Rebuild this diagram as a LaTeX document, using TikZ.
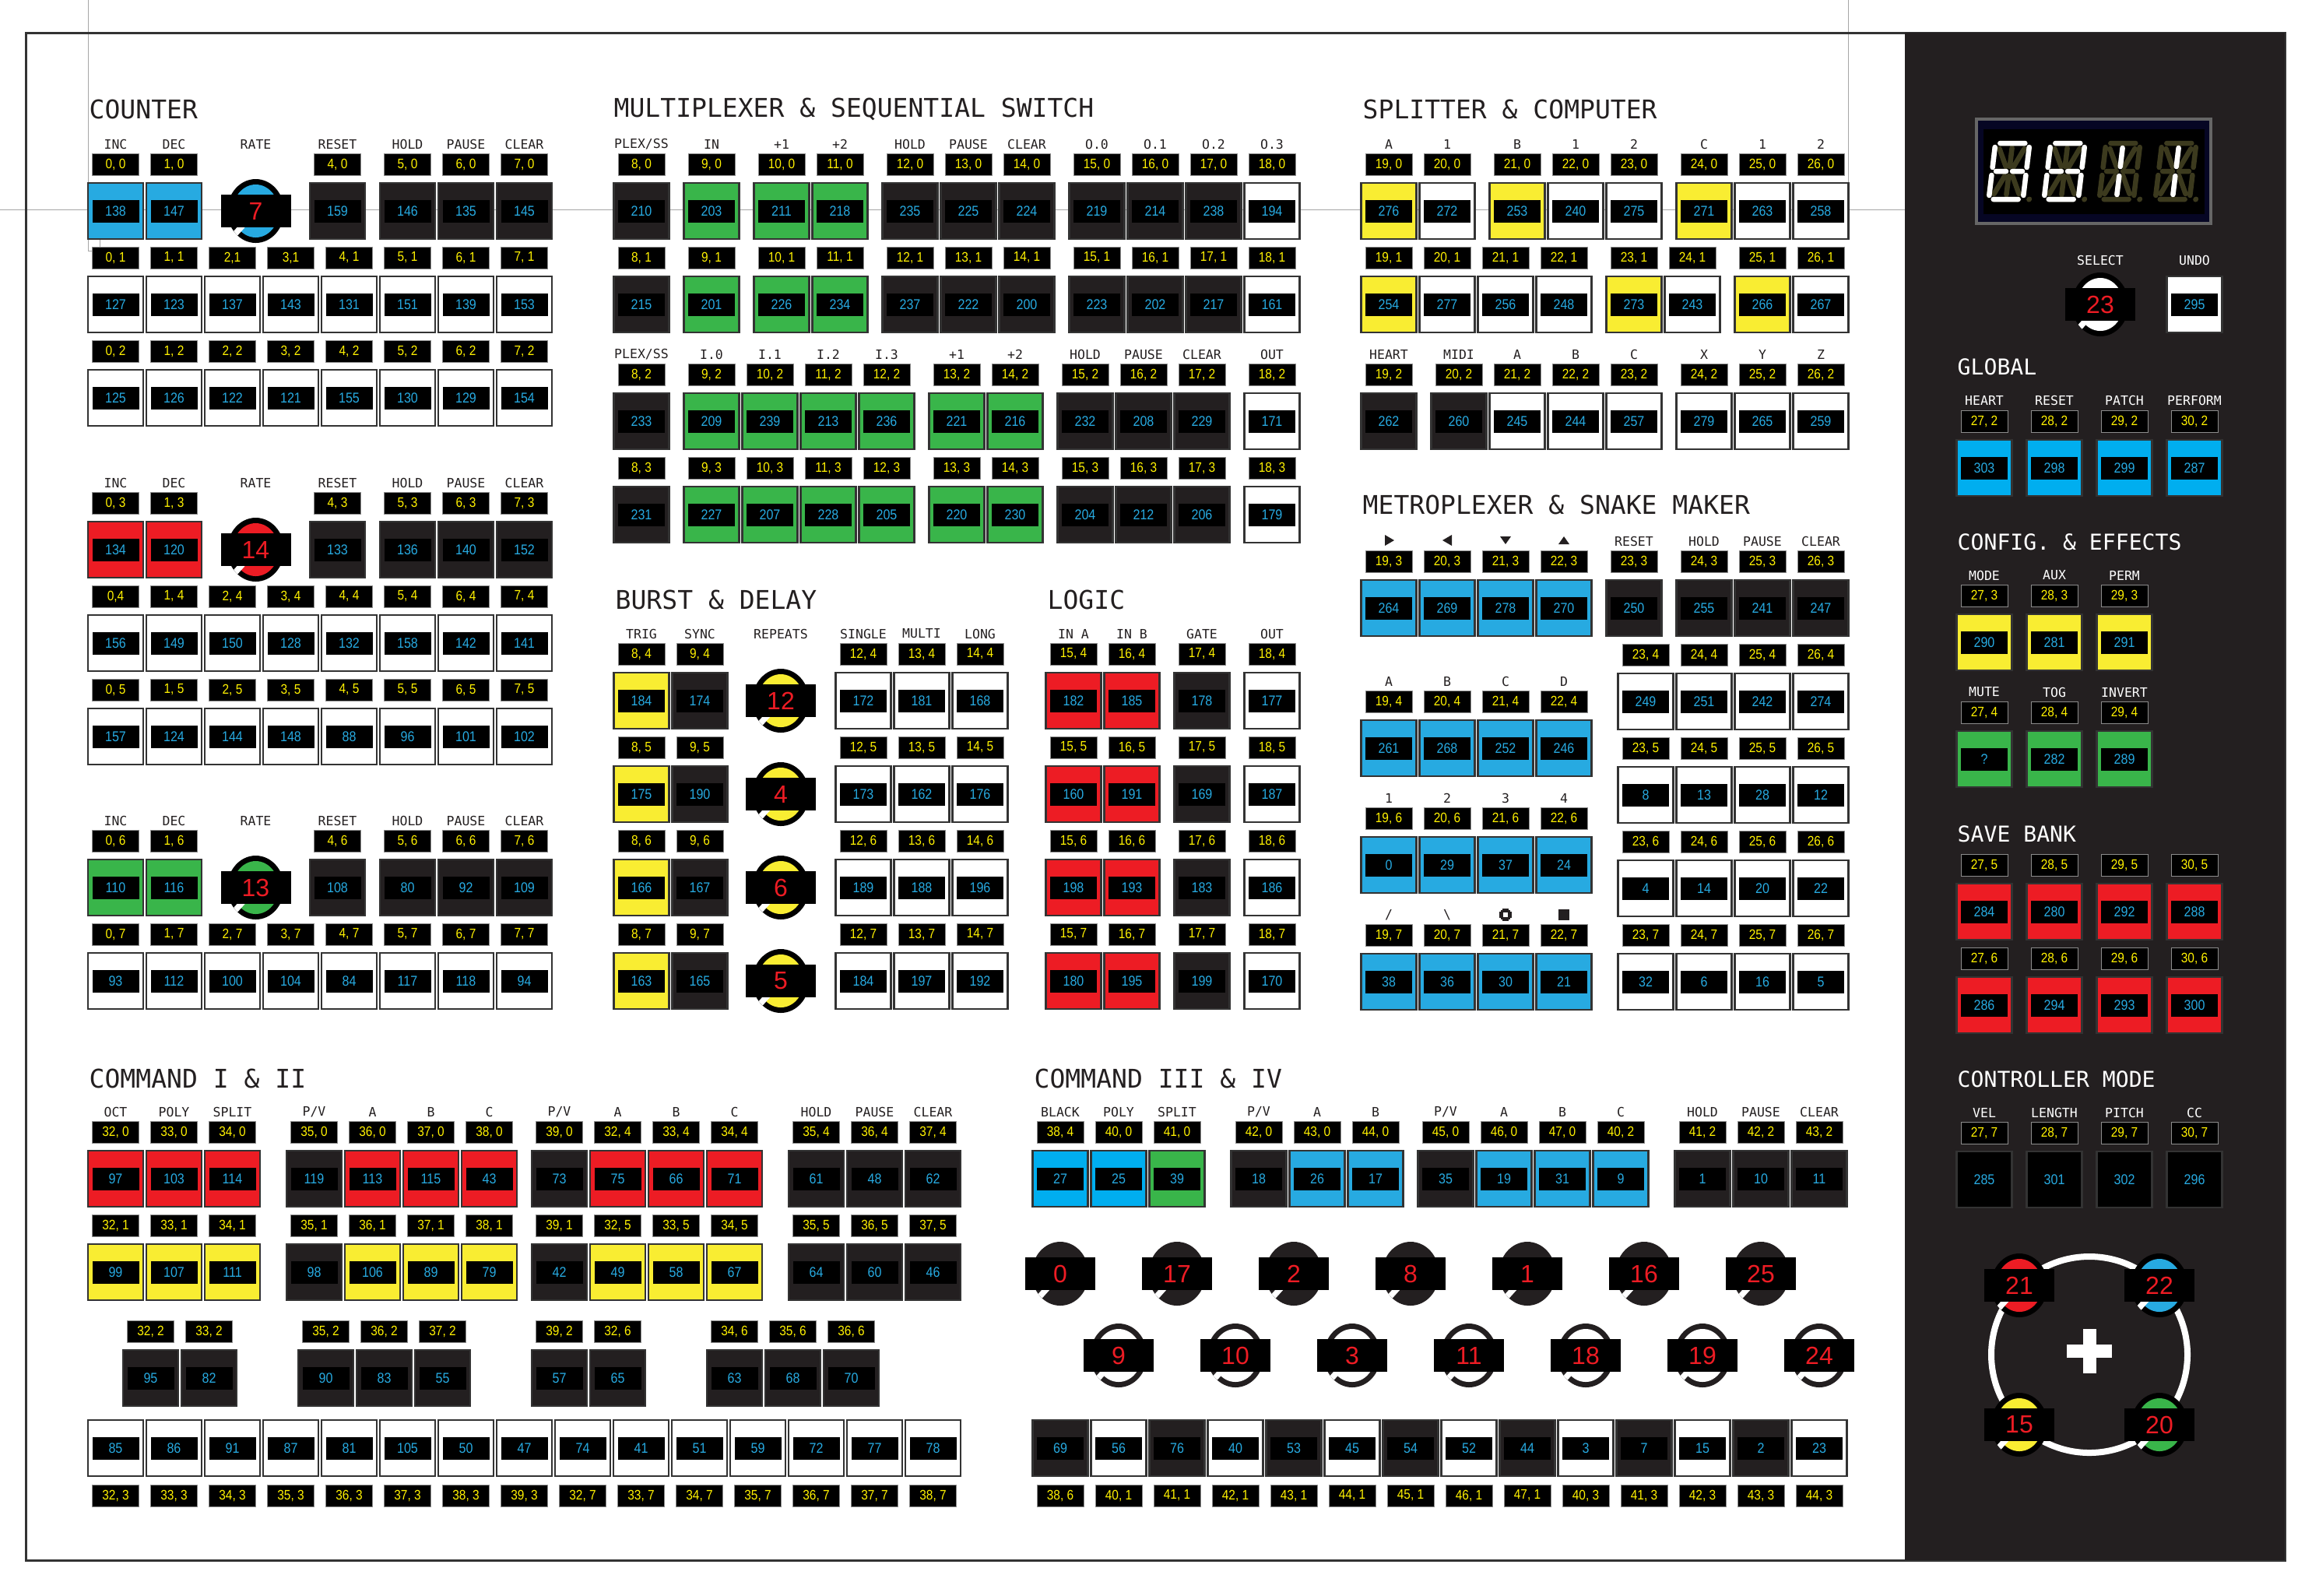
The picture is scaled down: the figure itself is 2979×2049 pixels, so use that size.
\documentclass[tikz,border=0pt]{standalone}
\usepackage{fontspec}
\newfontfamily\monofont{DejaVu Sans Mono}
\newfontfamily\numfont{Liberation Sans}[FakeStretch=0.88]
\newfontfamily\knobfont{Liberation Sans}
\definecolor{cblue}{RGB}{39,170,225}
\definecolor{cblue2}{RGB}{0,174,239}
\definecolor{cred}{RGB}{237,28,36}
\definecolor{cyel}{RGB}{249,237,50}
\definecolor{cgreen}{RGB}{57,181,74}
\definecolor{cdark}{RGB}{35,31,32}
\definecolor{clab}{RGB}{255,242,0}
\definecolor{cnum}{RGB}{39,170,225}
\definecolor{cdim}{RGB}{60,58,30}
\definecolor{cnavy}{RGB}{6,6,36}
\newcommand{\labdy}{-60}
% key: x, y, column, row, fill, number (optional: label text)
\newcommand{\keybtn}[7][\kbdef]{%
  \node[key, fill=#6] (key#4-#5) at (#2,#3) {};
  \node[inbox] (num#4-#5) at (key#4-#5.center) {#7};
  \node[lab] (lab#4-#5) at (#2,#3+\labdy) {\def\kbdef{#4, #5}#1};
}
% dial: x, y, fill, ring, number
\newcommand{\knobdial}[5]{%
  \fill[#4] (#1,#2) ellipse (36.5 and 41);
  \fill[#3] (#1,#2) ellipse (29.5 and 34);
  \begin{scope}
    \clip (#1,#2) ellipse (36.5 and 41);
    \draw[white, line width=0.75mm] (#1,#2) -- ++(-45,50);
  \end{scope}
  \node[knum] (knob#5) at (#1,#2) {#5};
}
\begin{document}
\begin{tikzpicture}[x=0.1mm, y=-0.1mm,
  key/.style={draw=black!80, line width=0.25mm, minimum width=7.1mm, minimum height=7.2mm, inner sep=0pt},
  inbox/.style={fill=black, minimum width=6mm, minimum height=2.9mm, inner sep=0pt, text=cnum, font=\numfont\fontsize{5.2}{6}\selectfont},
  lab/.style={fill=black, draw=black!45, line width=0.1mm, minimum width=6mm, minimum height=2.8mm, inner sep=0pt, text=clab, font=\numfont\fontsize{5}{6}\selectfont},
  knum/.style={fill=black, minimum width=9mm, minimum height=4.2mm, inner sep=0pt, text=cred, font=\knobfont\fontsize{9.1}{10}\selectfont},
  hdr/.style={inner sep=0pt, text=cdark, font=\monofont\fontsize{4.7}{5}\selectfont},
  phdr/.style={hdr, text=white},
  title/.style={anchor=west, inner sep=0pt, text=cdark, font=\monofont\fontsize{9.4}{11}\selectfont},
  ptitle/.style={title, text=white, font=\monofont\fontsize{8}{10}\selectfont},
  seg/.style={line width=0.65mm, line cap=round},
]
  \useasboundingbox (0,0) rectangle (2979,2049);
  % guides and frame
  \draw[black!35, line width=0.1mm] (0,269) -- (2447,269);
  \draw[black!35, line width=0.1mm] (113,0) -- (113,322) -- (128,322) -- (128,307);
  \draw[black!35, line width=0.1mm] (2374,0) -- (2374,236);
  \draw[black!80, line width=0.3mm] (33,42) rectangle (2935,2004);
  \fill[cdark] (2447,42) rectangle (2935,2004);

  % COUNTER
  \node[title] (tcounter) at (114,140) {COUNTER};
  \foreach \gy/\g in {185/1,620/2,1054/3}
    \foreach \x/\t [count=\i] in {148.5/INC,223.5/DEC,328.5/RATE,433.5/RESET,523.5/HOLD,598.5/PAUSE,673.5/CLEAR}
      {\node[hdr] (hc\g-\i) at (\x,\gy) {\t};}
  \foreach \y/\rw/\cl/\m/\na/\nb/\nc/\nd/\ne/\nf in {271/0/cblue/7/138/147/159/146/135/145, 706/3/cred/14/134/120/133/136/140/152, 1140/6/cgreen/13/110/116/108/80/92/109} {
    \knobdial{328.5}{\y}{\cl}{black}{\m}
    \keybtn{148.5}{\y}{0}{\rw}{\cl}{\na}
    \keybtn{223.5}{\y}{1}{\rw}{\cl}{\nb}
    \keybtn{433.5}{\y}{4}{\rw}{cdark}{\nc}
    \keybtn{523.5}{\y}{5}{\rw}{cdark}{\nd}
    \keybtn{598.5}{\y}{6}{\rw}{cdark}{\ne}
    \keybtn{673.5}{\y}{7}{\rw}{cdark}{\nf}
  }
  \foreach \n/\l [count=\i from 0] in {127/{0, 1},123/{1, 1},137/{2,1},143/{3,1},131/{4, 1},151/{5, 1},139/{6, 1},153/{7, 1}}
    {\keybtn[\l]{148.5+75*\i}{391}{\i}{1}{white}{\n}}
  \foreach \n/\l [count=\i from 0] in {156/{0,4},149/{1, 4},150/{2, 4},128/{3, 4},132/{4, 4},158/{5, 4},142/{6, 4},141/{7, 4}}
    {\keybtn[\l]{148.5+75*\i}{826}{\i}{4}{white}{\n}}
  \foreach \y/\rw/\nums in {511/2/{125,126,122,121,155,130,129,154}, 946/5/{157,124,144,148,88,96,101,102}, 1260/7/{93,112,100,104,84,117,118,94}}
    \foreach \n [count=\i from 0] in \nums
      {\keybtn{148.5+75*\i}{\y}{\i}{\rw}{white}{\n}}

  % MULTIPLEXER & SEQUENTIAL SWITCH
  \node[title] (tmux) at (788,140) {MULTIPLEXER \& SEQUENTIAL SWITCH};
  \foreach \x/\t [count=\i] in {824/{PLEX/SS},914/IN,1004/+1,1079/+2,1169/HOLD,1244/PAUSE,1319/CLEAR,1409/O.0,1484/O.1,1559/O.2,1634/O.3}
    {\node[hdr] (hm\i) at (\x,185) {\t};}
  \foreach \x/\cl/\fa/\na/\nb in {824/8/cdark/210/215, 914/9/cgreen/203/201, 1004/10/cgreen/211/226, 1079/11/cgreen/218/234, 1169/12/cdark/235/237, 1244/13/cdark/225/222, 1319/14/cdark/224/200, 1409/15/cdark/219/223, 1484/16/cdark/214/202, 1559/17/cdark/238/217, 1634/18/white/194/161} {
    \keybtn{\x}{271}{\cl}{0}{\fa}{\na}
    \keybtn{\x}{391}{\cl}{1}{\fa}{\nb}
  }
  \foreach \x/\t [count=\i] in {824/{PLEX/SS},914/I.0,989/I.1,1064/I.2,1139/I.3,1229/+1,1304/+2,1394/HOLD,1469/PAUSE,1544/CLEAR,1634/OUT}
    {\node[hdr] (hn\i) at (\x,455) {\t};}
  \foreach \x/\cl/\fa/\na/\nb in {824/8/cdark/233/231, 914/9/cgreen/209/227, 989/10/cgreen/239/207, 1064/11/cgreen/213/228, 1139/12/cgreen/236/205, 1229/13/cgreen/221/220, 1304/14/cgreen/216/230, 1394/15/cdark/232/204, 1469/16/cdark/208/212, 1544/17/cdark/229/206, 1634/18/white/171/179} {
    \keybtn{\x}{541}{\cl}{2}{\fa}{\na}
    \keybtn{\x}{661}{\cl}{3}{\fa}{\nb}
  }

  % BURST & DELAY
  \node[title] (tburst) at (790,770) {BURST \& DELAY};
  \foreach \x/\t [count=\i] in {824/TRIG,899/SYNC,1003/REPEATS,1109/SINGLE,1184/MULTI,1259/LONG}
    {\node[hdr] (hb\i) at (\x,814) {\t};}
  \foreach \y/\rw/\na/\nb/\m/\nc/\nd/\ne in {900/4/184/174/12/172/181/168, 1020/5/175/190/4/173/162/176, 1140/6/166/167/6/189/188/196, 1260/7/163/165/5/184/197/192} {
    \keybtn{824}{\y}{8}{\rw}{cyel}{\na}
    \keybtn{899}{\y}{9}{\rw}{cdark}{\nb}
    \knobdial{1003}{\y}{cyel}{black}{\m}
    \keybtn{1109}{\y}{12}{\rw}{white}{\nc}
    \keybtn{1184}{\y}{13}{\rw}{white}{\nd}
    \keybtn{1259}{\y}{14}{\rw}{white}{\ne}
  }

  % LOGIC
  \node[title] (tlogic) at (1345,770) {LOGIC};
  \foreach \x/\t [count=\i] in {1379/IN A,1454/IN B,1544/GATE,1634/OUT}
    {\node[hdr] (hl\i) at (\x,814) {\t};}
  \foreach \y/\rw/\na/\nb/\nc/\nd in {900/4/182/185/178/177, 1020/5/160/191/169/187, 1140/6/198/193/183/186, 1260/7/180/195/199/170} {
    \keybtn{1379}{\y}{15}{\rw}{cred}{\na}
    \keybtn{1454}{\y}{16}{\rw}{cred}{\nb}
    \keybtn{1544}{\y}{17}{\rw}{cdark}{\nc}
    \keybtn{1634}{\y}{18}{\rw}{white}{\nd}
  }

  % SPLITTER & COMPUTER
  \node[title] (tsplit) at (1750,140) {SPLITTER \& COMPUTER};
  \foreach \x/\t [count=\i] in {1784/A,1859/1,1949/B,2024/1,2099/2,2189/C,2264/1,2339/2}
    {\node[hdr] (hs\i) at (\x,185) {\t};}
  \foreach \x/\cl/\fa/\n in {1784/19/cyel/276, 1859/20/white/272, 1949/21/cyel/253, 2024/22/white/240, 2099/23/white/275, 2189/24/cyel/271, 2264/25/white/263, 2339/26/white/258}
    {\keybtn{\x}{271}{\cl}{0}{\fa}{\n}}
  \foreach \x/\cl/\fa/\n in {1784/19/cyel/254, 1859/20/white/277, 1934/21/white/256, 2009/22/white/248, 2099/23/cyel/273, 2174/24/white/243, 2264/25/cyel/266, 2339/26/white/267}
    {\keybtn{\x}{391}{\cl}{1}{\fa}{\n}}
  \foreach \x/\t [count=\i] in {1784/HEART,1874/MIDI,1949/A,2024/B,2099/C,2189/X,2264/Y,2339/Z}
    {\node[hdr] (ht\i) at (\x,455) {\t};}
  \foreach \x/\cl/\fa/\n in {1784/19/cdark/262, 1874/20/cdark/260, 1949/21/white/245, 2024/22/white/244, 2099/23/white/257, 2189/24/white/279, 2264/25/white/265, 2339/26/white/259}
    {\keybtn{\x}{541}{\cl}{2}{\fa}{\n}}

  % METROPLEXER & SNAKE MAKER
  \node[title] (tmetro) at (1750,648) {METROPLEXER \& SNAKE MAKER};
  \fill[cdark] (1779,687) -- (1791,694) -- (1779,701) -- cycle;
  \fill[cdark] (1865,687) -- (1853,694) -- (1865,701) -- cycle;
  \fill[cdark] (1927,689) -- (1941,689) -- (1934,699) -- cycle;
  \fill[cdark] (2002,699) -- (2016,699) -- (2009,689) -- cycle;
  \foreach \x/\t [count=\i] in {2099/RESET,2189/HOLD,2264/PAUSE,2339/CLEAR}
    {\node[hdr] (hr\i) at (\x,695) {\t};}
  \foreach \x/\cl/\fa/\n in {1784/19/cblue/264, 1859/20/cblue/269, 1934/21/cblue/278, 2009/22/cblue/270, 2099/23/cdark/250, 2189/24/cdark/255, 2264/25/cdark/241, 2339/26/cdark/247}
    {\keybtn{\x}{781}{\cl}{3}{\fa}{\n}}
  \foreach \y/\rw/\na/\nb/\nc/\nd in {901/4/249/251/242/274, 1021/5/8/13/28/12, 1141/6/4/14/20/22, 1261/7/32/6/16/5} {
    \keybtn{2114}{\y}{23}{\rw}{white}{\na}
    \keybtn{2189}{\y}{24}{\rw}{white}{\nb}
    \keybtn{2264}{\y}{25}{\rw}{white}{\nc}
    \keybtn{2339}{\y}{26}{\rw}{white}{\nd}
  }
  \foreach \x/\ta/\tb [count=\i] in {1784/A/1,1859/B/2,1934/C/3,2009/D/4} {
    \node[hdr] (hx\i) at (\x,875) {\ta};
    \node[hdr] (hy\i) at (\x,1025) {\tb};
  }
  \node[hdr] (hz1) at (1784,1175) {/};
  \node[hdr] (hz2) at (1859,1175) {\textbackslash};
  \fill[cdark] (1926,1171) rectangle (1942,1179);
  \fill[cdark] (1930,1167) rectangle (1938,1183);
  \fill[cdark] (1928,1169) rectangle (1940,1181);
  \fill[white] (1931,1172) rectangle (1937,1178);
  \fill[cdark] (2002,1168) rectangle (2016,1182);
  \foreach \y/\rw/\na/\nb/\nc/\nd in {961/4/261/268/252/246, 1111/6/0/29/37/24, 1261/7/38/36/30/21} {
    \keybtn{1784}{\y}{19}{\rw}{cblue}{\na}
    \keybtn{1859}{\y}{20}{\rw}{cblue}{\nb}
    \keybtn{1934}{\y}{21}{\rw}{cblue}{\nc}
    \keybtn{2009}{\y}{22}{\rw}{cblue}{\nd}
  }

  % COMMAND I & II
  \node[title] (tcmd1) at (114,1385) {COMMAND I \& II};
  \foreach \x/\t [count=\i] in {148.5/OCT,223.5/POLY,298.5/SPLIT,403.5/{P/V},478.5/A,553.5/B,628.5/C,718.5/{P/V},793.5/A,868.5/B,943.5/C,1048.5/HOLD,1123.5/PAUSE,1198.5/CLEAR}
    {\node[hdr] (hk\i) at (\x,1428) {\t};}
  \foreach \x/\cl/\rw/\fa/\fb/\na/\nb in {148.5/32/0/cred/cyel/97/99, 223.5/33/0/cred/cyel/103/107, 298.5/34/0/cred/cyel/114/111, 403.5/35/0/cdark/cdark/119/98, 478.5/36/0/cred/cyel/113/106, 553.5/37/0/cred/cyel/115/89, 628.5/38/0/cred/cyel/43/79, 718.5/39/0/cdark/cdark/73/42, 793.5/32/4/cred/cyel/75/49, 868.5/33/4/cred/cyel/66/58, 943.5/34/4/cred/cyel/71/67, 1048.5/35/4/cdark/cdark/61/64, 1123.5/36/4/cdark/cdark/48/60, 1198.5/37/4/cdark/cdark/62/46} {
    \pgfmathtruncatemacro\rb{\rw+1}
    \keybtn{\x}{1514}{\cl}{\rw}{\fa}{\na}
    \keybtn{\x}{1634}{\cl}{\rb}{\fb}{\nb}
  }
  \foreach \x/\cl/\rw/\n in {193.5/32/2/95, 268.5/33/2/82, 418.5/35/2/90, 493.5/36/2/83, 568.5/37/2/55, 718.5/39/2/57, 793.5/32/6/65, 943.5/34/6/63, 1018.5/35/6/68, 1093.5/36/6/70}
    {\keybtn{\x}{1770}{\cl}{\rw}{cdark}{\n}}
  \renewcommand{\labdy}{61}
  \foreach \cl/\rw/\n [count=\i from 0] in {32/3/85, 33/3/86, 34/3/91, 35/3/87, 36/3/81, 37/3/105, 38/3/50, 39/3/47, 32/7/74, 33/7/41, 34/7/51, 35/7/59, 36/7/72, 37/7/77, 38/7/78}
    {\keybtn{148.5+75*\i}{1860}{\cl}{\rw}{white}{\n}}

  % COMMAND III & IV
  \node[title] (tcmd3) at (1328,1385) {COMMAND III \& IV};
  \foreach \x/\t [count=\i] in {1362/BLACK,1437/POLY,1512/SPLIT,1617/{P/V},1692/A,1767/B,1857/{P/V},1932/A,2007/B,2082/C,2187/HOLD,2262/PAUSE,2337/CLEAR}
    {\node[hdr] (hq\i) at (\x,1428) {\t};}
  \foreach \cl/\rw/\fa/\n [count=\i from 0] in {38/6/cdark/69, 40/1/white/56, 41/1/cdark/76, 42/1/white/40, 43/1/cdark/53, 44/1/white/45, 45/1/cdark/54, 46/1/white/52, 47/1/cdark/44, 40/3/white/3, 41/3/cdark/7, 42/3/white/15, 43/3/cdark/2, 44/3/white/23}
    {\keybtn{1362+75*\i}{1860}{\cl}{\rw}{\fa}{\n}}
  \renewcommand{\labdy}{-60}
  \foreach \x/\cl/\rw/\fa/\n in {1362/38/4/cblue2/27, 1437/40/0/cblue2/25, 1512/41/0/cgreen/39, 1617/42/0/cdark/18, 1692/43/0/cblue/26, 1767/44/0/cblue/17, 1857/45/0/cdark/35, 1932/46/0/cblue/19, 2007/47/0/cblue/31, 2082/40/2/cblue/9, 2187/41/2/cdark/1, 2262/42/2/cdark/10, 2337/43/2/cdark/11}
    {\keybtn{\x}{1514}{\cl}{\rw}{\fa}{\n}}
  \foreach \m [count=\i from 0] in {0,17,2,8,1,16,25}
    {\knobdial{1362+150*\i}{1636}{cdark}{cdark}{\m}}
  \foreach \m [count=\i from 0] in {9,10,3,11,18,19,24}
    {\knobdial{1437+150*\i}{1741}{white}{cdark}{\m}}

  % right panel: display
  \fill[black!60] (2537,151) rectangle (2842,289);
  \fill[cnavy] (2541,155) rectangle (2838,285);
  \fill[black] (2548,166) rectangle (2832,275);
  \foreach \dx [count=\i] in {2581,2652,2723,2795} {
    \begin{scope}[shift={(\dx,220)}, xslant=0.12]
      \draw[seg, cdim] (-16,-36) -- (16,-36) (22,-31) -- (22,-5) (22,5) -- (22,31) (-16,36) -- (16,36) (-22,5) -- (-22,31) (-22,-31) -- (-22,-5) (-17,0) -- (-4,0) (4,0) -- (17,0) (-16,-29) -- (-5,-6) (0,-30) -- (0,-6) (16,-29) -- (5,-6) (-16,29) -- (-5,6) (0,6) -- (0,30) (16,29) -- (5,6);
      \fill[cdim] (30,36) circle (3.5);
      \ifnum\i<3
        \draw[seg, white] (-16,-36) -- (16,-36) (22,-31) -- (22,-5) (22,5) -- (22,31) (-16,36) -- (16,36) (-22,5) -- (-22,31) (-22,-31) -- (-22,-5) (-17,0) -- (-4,0) (4,0) -- (17,0);
      \else
        \draw[seg, white] (0,-30) -- (0,-6) (0,6) -- (0,30);
      \fi
    \end{scope}
  }
  \node[phdr] (hsel) at (2698,334) {SELECT};
  \node[phdr] (hundo) at (2819,334) {UNDO};
  \knobdial{2698}{391}{white}{black}{23}
  \node[key, fill=white] (keyundo) at (2819,391) {};
  \node[inbox] (numundo) at (keyundo.center) {295};

  % GLOBAL
  \node[ptitle] (tglobal) at (2514,471) {GLOBAL};
  \foreach \x/\t/\cl/\n [count=\i] in {2549/HEART/27/303, 2639/RESET/28/298, 2729/PATCH/29/299, 2819/PERFORM/30/287} {
    \node[phdr] (hg\i) at (\x,514) {\t};
    \keybtn{\x}{601}{\cl}{2}{cblue2}{\n}
  }
  % CONFIG. & EFFECTS
  \node[ptitle] (tconfig) at (2514,696) {CONFIG. \& EFFECTS};
  \foreach \x/\ta/\tb/\cl/\na/\nb [count=\i] in {2549/MODE/MUTE/27/290/?, 2639/AUX/TOG/28/281/282, 2729/PERM/INVERT/29/291/289} {
    \node[phdr] (hf\i) at (\x,739) {\ta};
    \keybtn{\x}{825}{\cl}{3}{cyel}{\na}
    \node[phdr] (he\i) at (\x,889) {\tb};
    \keybtn{\x}{975}{\cl}{4}{cgreen}{\nb}
  }
  % SAVE BANK
  \node[ptitle] (tsave) at (2514,1071) {SAVE BANK};
  \foreach \x/\cl/\na/\nb in {2549/27/284/286, 2639/28/280/294, 2729/29/292/293, 2819/30/288/300} {
    \keybtn{\x}{1171}{\cl}{5}{cred}{\na}
    \keybtn{\x}{1291}{\cl}{6}{cred}{\nb}
  }
  % CONTROLLER MODE
  \node[ptitle] (tctrl) at (2514,1386) {CONTROLLER MODE};
  \foreach \x/\t/\cl/\n [count=\i] in {2549/VEL/27/285, 2639/LENGTH/28/301, 2729/PITCH/29/302, 2819/CC/30/296} {
    \node[phdr] (hv\i) at (\x,1429) {\t};
    \keybtn{\x}{1515}{\cl}{7}{black}{\n}
  }
  % joystick
  \draw[white, line width=0.8mm] (2684,1740) circle (126);
  \fill[white] (2676,1707) rectangle (2693,1764);
  \fill[white] (2655,1727) rectangle (2713,1744);
  \foreach \x/\y/\cl/\m in {2594/1651/cred/21, 2774/1651/cblue/22, 2594/1830/cyel/15, 2774/1830/cgreen/20}
    {\knobdial{\x}{\y}{\cl}{black}{\m}}
\end{tikzpicture}
\end{document}
